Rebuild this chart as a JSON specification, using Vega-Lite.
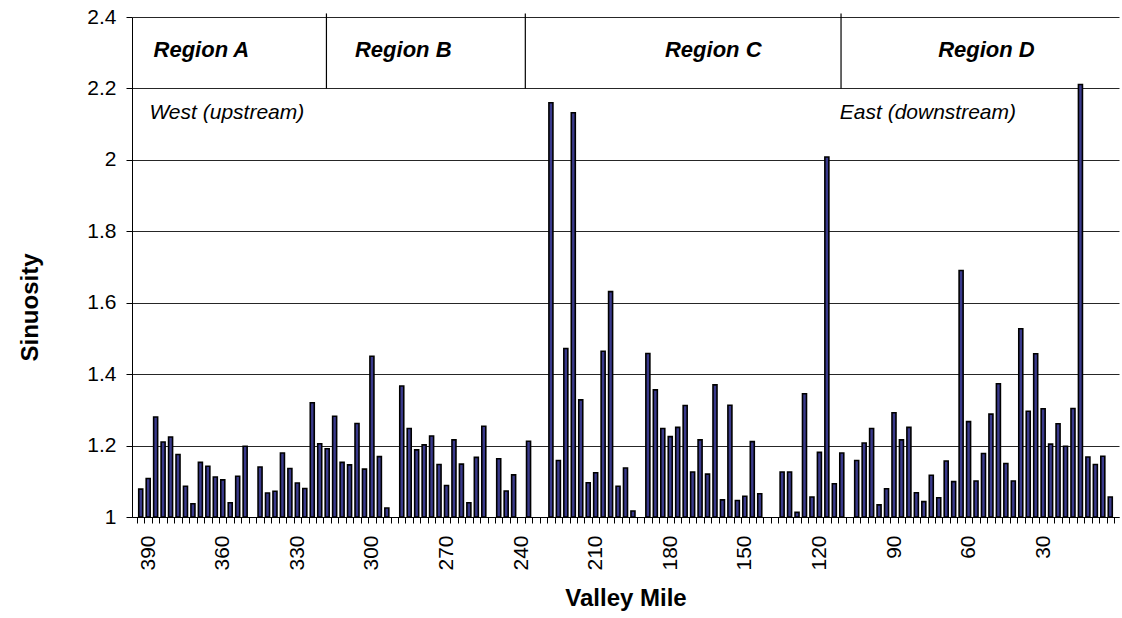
{
  "$schema": "https://vega.github.io/schema/vega-lite/v6.json",
  "width": 987,
  "height": 500,
  "autosize": {"type": "none"},
  "padding": {"left": 132, "top": 17, "right": 3, "bottom": 101},
  "background": "white",
  "config": {
    "view": {"stroke": null},
    "font": "Liberation Sans",
    "axis": {"labelFont": "Liberation Sans", "titleFont": "Liberation Sans", "labelColor": "black", "titleColor": "black", "domainColor": "black", "tickColor": "black"}
  },
  "datasets": {
    "bars": [
      {"mile": 393, "value": 1.078}, {"mile": 390, "value": 1.108}, {"mile": 387, "value": 1.280}, {"mile": 384, "value": 1.210},
      {"mile": 381, "value": 1.224}, {"mile": 378, "value": 1.175}, {"mile": 375, "value": 1.086}, {"mile": 372, "value": 1.037},
      {"mile": 369, "value": 1.153}, {"mile": 366, "value": 1.142}, {"mile": 363, "value": 1.112}, {"mile": 360, "value": 1.104},
      {"mile": 357, "value": 1.040}, {"mile": 354, "value": 1.114}, {"mile": 351, "value": 1.198},
      {"mile": 345, "value": 1.140}, {"mile": 342, "value": 1.067}, {"mile": 339, "value": 1.072}, {"mile": 336, "value": 1.179},
      {"mile": 333, "value": 1.136}, {"mile": 330, "value": 1.095}, {"mile": 327, "value": 1.080}, {"mile": 324, "value": 1.320},
      {"mile": 321, "value": 1.205}, {"mile": 318, "value": 1.191}, {"mile": 315, "value": 1.282}, {"mile": 312, "value": 1.153},
      {"mile": 309, "value": 1.146}, {"mile": 306, "value": 1.262}, {"mile": 303, "value": 1.134}, {"mile": 300, "value": 1.450},
      {"mile": 297, "value": 1.169}, {"mile": 294, "value": 1.025},
      {"mile": 288, "value": 1.367}, {"mile": 285, "value": 1.248}, {"mile": 282, "value": 1.188}, {"mile": 279, "value": 1.202},
      {"mile": 276, "value": 1.227}, {"mile": 273, "value": 1.147}, {"mile": 270, "value": 1.088}, {"mile": 267, "value": 1.216},
      {"mile": 264, "value": 1.148}, {"mile": 261, "value": 1.040}, {"mile": 258, "value": 1.167}, {"mile": 255, "value": 1.254},
      {"mile": 249, "value": 1.163}, {"mile": 246, "value": 1.073}, {"mile": 243, "value": 1.118},
      {"mile": 237, "value": 1.212},
      {"mile": 228, "value": 2.160}, {"mile": 225, "value": 1.158}, {"mile": 222, "value": 1.472}, {"mile": 219, "value": 2.132},
      {"mile": 216, "value": 1.328}, {"mile": 213, "value": 1.096}, {"mile": 210, "value": 1.124}, {"mile": 207, "value": 1.464},
      {"mile": 204, "value": 1.631}, {"mile": 201, "value": 1.086}, {"mile": 198, "value": 1.137}, {"mile": 195, "value": 1.017},
      {"mile": 189, "value": 1.458}, {"mile": 186, "value": 1.356}, {"mile": 183, "value": 1.248}, {"mile": 180, "value": 1.225},
      {"mile": 177, "value": 1.251}, {"mile": 174, "value": 1.312}, {"mile": 171, "value": 1.126}, {"mile": 168, "value": 1.216},
      {"mile": 165, "value": 1.120}, {"mile": 162, "value": 1.370}, {"mile": 159, "value": 1.048}, {"mile": 156, "value": 1.313},
      {"mile": 153, "value": 1.046}, {"mile": 150, "value": 1.058}, {"mile": 147, "value": 1.211}, {"mile": 144, "value": 1.065},
      {"mile": 135, "value": 1.126}, {"mile": 132, "value": 1.126}, {"mile": 129, "value": 1.013}, {"mile": 126, "value": 1.345},
      {"mile": 123, "value": 1.056}, {"mile": 120, "value": 1.181}, {"mile": 117, "value": 2.008}, {"mile": 114, "value": 1.093},
      {"mile": 111, "value": 1.179},
      {"mile": 105, "value": 1.158}, {"mile": 102, "value": 1.207}, {"mile": 99, "value": 1.248}, {"mile": 96, "value": 1.034},
      {"mile": 93, "value": 1.079}, {"mile": 90, "value": 1.292}, {"mile": 87, "value": 1.216}, {"mile": 84, "value": 1.251},
      {"mile": 81, "value": 1.068}, {"mile": 78, "value": 1.043}, {"mile": 75, "value": 1.117}, {"mile": 72, "value": 1.054},
      {"mile": 69, "value": 1.157}, {"mile": 66, "value": 1.099}, {"mile": 63, "value": 1.690}, {"mile": 60, "value": 1.267},
      {"mile": 57, "value": 1.101}, {"mile": 54, "value": 1.178}, {"mile": 51, "value": 1.288}, {"mile": 48, "value": 1.373},
      {"mile": 45, "value": 1.150}, {"mile": 42, "value": 1.101}, {"mile": 39, "value": 1.527}, {"mile": 36, "value": 1.296},
      {"mile": 33, "value": 1.457}, {"mile": 30, "value": 1.303}, {"mile": 27, "value": 1.204}, {"mile": 24, "value": 1.261},
      {"mile": 21, "value": 1.198}, {"mile": 18, "value": 1.304}, {"mile": 15, "value": 2.211}, {"mile": 12, "value": 1.168},
      {"mile": 9, "value": 1.147}, {"mile": 6, "value": 1.170}, {"mile": 3, "value": 1.056}
    ],
    "dividers": [
      {"mile": 318.3, "value": 2.2, "top": 2.41},
      {"mile": 238.3, "value": 2.2, "top": 2.41},
      {"mile": 111.3, "value": 2.2, "top": 2.41}
    ],
    "regions": [
      {"mile": 368.6, "value": 2.308, "label": "Region A"},
      {"mile": 287.4, "value": 2.308, "label": "Region B"},
      {"mile": 162.7, "value": 2.308, "label": "Region C"},
      {"mile": 52.8, "value": 2.308, "label": "Region D"}
    ],
    "notes": [
      {"mile": 389.5, "value": 2.132, "label": "West (upstream)"},
      {"mile": 111.8, "value": 2.132, "label": "East (downstream)"}
    ]
  },
  "encoding": {
    "x": {
      "field": "mile",
      "type": "quantitative",
      "scale": {"domain": [1.5, 394.5], "reverse": true, "nice": false, "zero": false},
      "axis": {
        "title": "Valley Mile",
        "titleFontSize": 24,
        "titleFontWeight": "bold",
        "titlePadding": 16,
        "values": [394.5, 391.5, 388.5, 385.5, 382.5, 379.5, 376.5, 373.5, 370.5, 367.5, 364.5, 361.5, 358.5, 355.5, 352.5, 349.5, 346.5, 343.5, 340.5, 337.5, 334.5, 331.5, 328.5, 325.5, 322.5, 319.5, 316.5, 313.5, 310.5, 307.5, 304.5, 301.5, 298.5, 295.5, 292.5, 289.5, 286.5, 283.5, 280.5, 277.5, 274.5, 271.5, 268.5, 265.5, 262.5, 259.5, 256.5, 253.5, 250.5, 247.5, 244.5, 241.5, 238.5, 235.5, 232.5, 229.5, 226.5, 223.5, 220.5, 217.5, 214.5, 211.5, 208.5, 205.5, 202.5, 199.5, 196.5, 193.5, 190.5, 187.5, 184.5, 181.5, 178.5, 175.5, 172.5, 169.5, 166.5, 163.5, 160.5, 157.5, 154.5, 151.5, 148.5, 145.5, 142.5, 139.5, 136.5, 133.5, 130.5, 127.5, 124.5, 121.5, 118.5, 115.5, 112.5, 109.5, 106.5, 103.5, 100.5, 97.5, 94.5, 91.5, 88.5, 85.5, 82.5, 79.5, 76.5, 73.5, 70.5, 67.5, 64.5, 61.5, 58.5, 55.5, 52.5, 49.5, 46.5, 43.5, 40.5, 37.5, 34.5, 31.5, 28.5, 25.5, 22.5, 19.5, 16.5, 13.5, 10.5, 7.5, 4.5, 1.5],
        "labelExpr": "datum.value > 2 && (datum.value - 1.5) % 30 === 0 ? format(datum.value - 1.5, 'd') : ''",
        "labelAngle": -90,
        "labelOffset": 3.77,
        "labelPadding": 12,
        "labelFontSize": 21,
        "labelOverlap": false,
        "labelFlush": false,
        "labelBound": false,
        "tickSize": 6,
        "grid": false
      }
    },
    "y": {
      "field": "value",
      "type": "quantitative",
      "scale": {"domain": [1, 2.4], "nice": false, "zero": false},
      "axis": {
        "title": "Sinuosity",
        "titleFontSize": 24,
        "titleFontWeight": "bold",
        "titleAngle": -90,
        "titleAlign": "center",
        "titleBaseline": "middle",
        "titleX": -102,
        "titleY": 290,
        "values": [1, 1.2, 1.4, 1.6, 1.8, 2, 2.2, 2.4],
        "format": "~g",
        "labelFontSize": 21,
        "labelPadding": 10,
        "tickSize": 6,
        "grid": true,
        "gridColor": "black",
        "gridOpacity": 0.85,
        "gridWidth": 1
      }
    }
  },
  "layer": [
    {
      "data": {"name": "bars"},
      "mark": {"type": "bar", "width": 4, "fill": "#3a3a8c", "stroke": "black", "strokeWidth": 1.6},
      "encoding": {"y2": {"datum": 1}}
    },
    {
      "data": {"name": "dividers"},
      "mark": {"type": "rule", "color": "black", "strokeWidth": 1.2},
      "encoding": {"y2": {"field": "top"}}
    },
    {
      "data": {"name": "regions"},
      "mark": {"type": "text", "font": "Liberation Sans", "fontSize": 22, "fontWeight": "bold", "fontStyle": "italic", "align": "center", "baseline": "middle", "color": "black"},
      "encoding": {"text": {"field": "label"}}
    },
    {
      "data": {"name": "notes"},
      "mark": {"type": "text", "font": "Liberation Sans", "fontSize": 21, "fontStyle": "italic", "align": "left", "baseline": "middle", "color": "black"},
      "encoding": {"text": {"field": "label"}}
    }
  ]
}
